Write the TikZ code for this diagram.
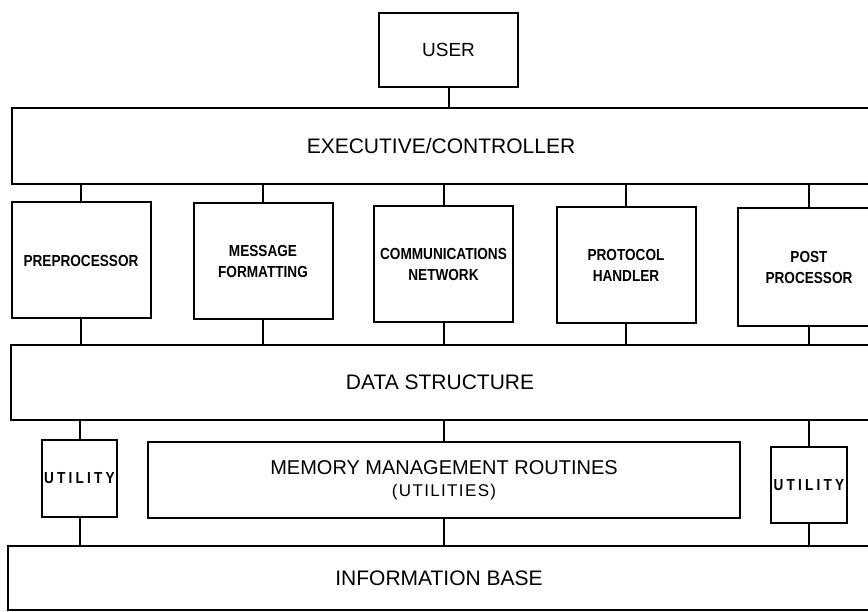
\documentclass[tikz,border=0pt]{standalone}
\usepackage{fontspec}
\setmainfont{Liberation Sans}
\newfontfamily\boxfont[FakeStretch=0.85]{Liberation Sans}
\newfontfamily\utilfont[FakeStretch=0.85,LetterSpace=20]{Liberation Sans}
\newfontfamily\subfont[LetterSpace=8]{Liberation Sans}
\begin{document}
\begin{tikzpicture}[x=1pt,y=-1pt,
  line width=2pt,
  blk/.style={draw, rectangle, inner sep=0pt, align=center},
  bar/.style={blk, minimum width=858pt, font=\fontsize{21}{25}\selectfont},
  proc/.style={blk, minimum width=139pt, minimum height=116pt,
               font=\boxfont\bfseries\fontsize{16}{21}\selectfont},
  utilbox/.style={blk, minimum width=75pt, minimum height=77pt,
               font=\utilfont\bfseries\fontsize{16}{21}\selectfont},
  link/.style={draw, line width=2pt}
]
\useasboundingbox (0,0) rectangle (868,612);
\clip (0,0) rectangle (868,612);

% top: user and executive layer
\node[blk, minimum width=139pt, minimum height=74pt,
      font=\fontsize{19}{23}\selectfont] (user) at (448.5,50) {USER};
\node[bar, minimum height=76pt] (exec) at (441,146) {EXECUTIVE/CONTROLLER};

% processing modules
\node[proc] (pre)  at (81,260.5)  {PREPROCESSOR};
\node[proc] (msg)  at (263,261)   {MESSAGE\\FORMATTING};
\node[proc] (comm) at (443.5,264.5) {COMMUNICATIONS\\NETWORK};
\node[proc] (prot) at (626,265)   {PROTOCOL\\HANDLER};
\node[proc, minimum width=142pt, minimum height=118pt] (post) at (809,267) {POST\\PROCESSOR};

% data structure layer
\node[bar, minimum height=75pt] (ds) at (440,382.5) {DATA STRUCTURE};

% utilities and memory management
\node[utilbox] (util1) at (79.5,478.5) {UTILITY};
\node[blk, minimum width=592pt, minimum height=76pt,
      font=\fontsize{20}{22}\selectfont] (mem) at (444,480)
      {MEMORY MANAGEMENT ROUTINES\\{\subfont\fontsize{17}{22}\selectfont (UTILITIES)}};
\node[utilbox, minimum width=76pt, minimum height=76pt] (util2) at (809,485) {UTILITY};

% information base
\node[bar, minimum width=862pt, minimum height=64pt] (info) at (439,578) {INFORMATION BASE};

% connectors
\draw[link] (user.south) -- (user.south |- exec.north);
\foreach \b in {pre,msg,comm,prot,post} {
  \draw[link] (\b.north) -- (\b.north |- exec.south);
  \draw[link] (\b.south) -- (\b.south |- ds.north);
}
\foreach \b in {util1,mem,util2} {
  \draw[link] (\b.north) -- (\b.north |- ds.south);
  \draw[link] (\b.south) -- (\b.south |- info.north);
}
\end{tikzpicture}
\end{document}
